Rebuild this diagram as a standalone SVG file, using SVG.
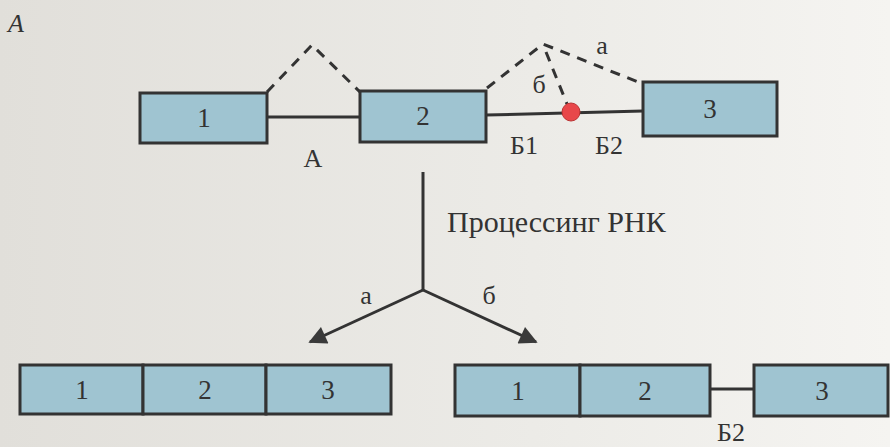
<svg xmlns="http://www.w3.org/2000/svg" width="890" height="447" viewBox="0 0 890 447">
<defs>
<linearGradient id="bg" x1="0" y1="0" x2="1" y2="0">
<stop offset="0" stop-color="#e1dfda"/>
<stop offset="0.6" stop-color="#ecebe7"/>
<stop offset="1" stop-color="#f5f4f1"/>
</linearGradient>
<marker id="arr" viewBox="0 0 10 10" refX="9" refY="5" markerWidth="7" markerHeight="6" markerUnits="strokeWidth" orient="auto">
<path d="M0,0 L10,5 L0,10 z" fill="#3a3a3a"/>
</marker>
<style>
.ex{fill:#9fc4d1;stroke:#333;stroke-width:3}
.ln{stroke:#333;stroke-width:3;fill:none}
.ds{stroke:#333;stroke-width:3;fill:none;stroke-dasharray:10 8}
text{font-family:'Liberation Serif','Times New Roman','DejaVu Serif',serif;fill:#333;text-anchor:middle}
.n{font-size:27px}
.l{font-size:26px}
</style>
</defs>
<rect width="890" height="447" fill="url(#bg)"/>
<text x="8" y="32" font-family="Liberation Serif, serif" font-style="italic" font-size="26" style="text-anchor:start">A</text>

<g id="connectors">
<line class="ln" x1="267" y1="117" x2="360" y2="117"/>
<line class="ln" x1="486" y1="115" x2="643" y2="111"/>
<polyline class="ds" points="267,92 312,45 360,92"/>
<polyline class="ds" points="487,88 543,44 643,84"/>
<line class="ds" x1="546" y1="52" x2="567" y2="104"/>
<line class="ln" x1="423" y1="172" x2="423" y2="290"/>
<line class="ln" x1="423" y1="290" x2="310" y2="342" marker-end="url(#arr)"/>
<line class="ln" x1="423" y1="290" x2="536" y2="342" marker-end="url(#arr)"/>
<line class="ln" x1="710" y1="389" x2="754" y2="389"/>
</g>

<g id="exon1"><rect class="ex" x="140" y="93" width="127" height="50"/><text class="n" x="204" y="127">1</text></g>
<g id="exon2"><rect class="ex" x="360" y="91" width="126" height="51"/><text class="n" x="423" y="125">2</text></g>
<g id="exon3"><rect class="ex" x="643" y="82" width="134" height="54"/><text class="n" x="710" y="118">3</text></g>
<g id="site"><circle cx="571" cy="112" r="9" fill="#e8474a" stroke="#b33" stroke-width="1"/></g>

<g id="labels">
<text class="l" x="313" y="167">А</text>
<text class="l" x="524" y="154">Б1</text>
<text class="l" x="609" y="154">Б2</text>
<text class="l" x="602" y="54">а</text>
<text class="l" x="539" y="93">б</text>
<text class="l" x="447" y="232" style="text-anchor:start;font-size:30px">Процессинг РНК</text>
<text class="l" x="366" y="304">а</text>
<text class="l" x="489" y="304">б</text>
<text class="l" x="731" y="441">Б2</text>
</g>

<g id="mrna-a">
<rect class="ex" x="20" y="365" width="123" height="49"/>
<rect class="ex" x="143" y="365" width="123" height="49"/>
<rect class="ex" x="266" y="365" width="125" height="49"/>
<text class="n" x="82" y="399">1</text>
<text class="n" x="205" y="399">2</text>
<text class="n" x="328" y="399">3</text>
</g>

<g id="mrna-b">
<rect class="ex" x="455" y="365" width="125" height="51"/>
<rect class="ex" x="580" y="365" width="130" height="51"/>
<rect class="ex" x="754" y="365" width="134" height="51"/>
<text class="n" x="518" y="400">1</text>
<text class="n" x="645" y="400">2</text>
<text class="n" x="822" y="400">3</text>
</g>
</svg>
